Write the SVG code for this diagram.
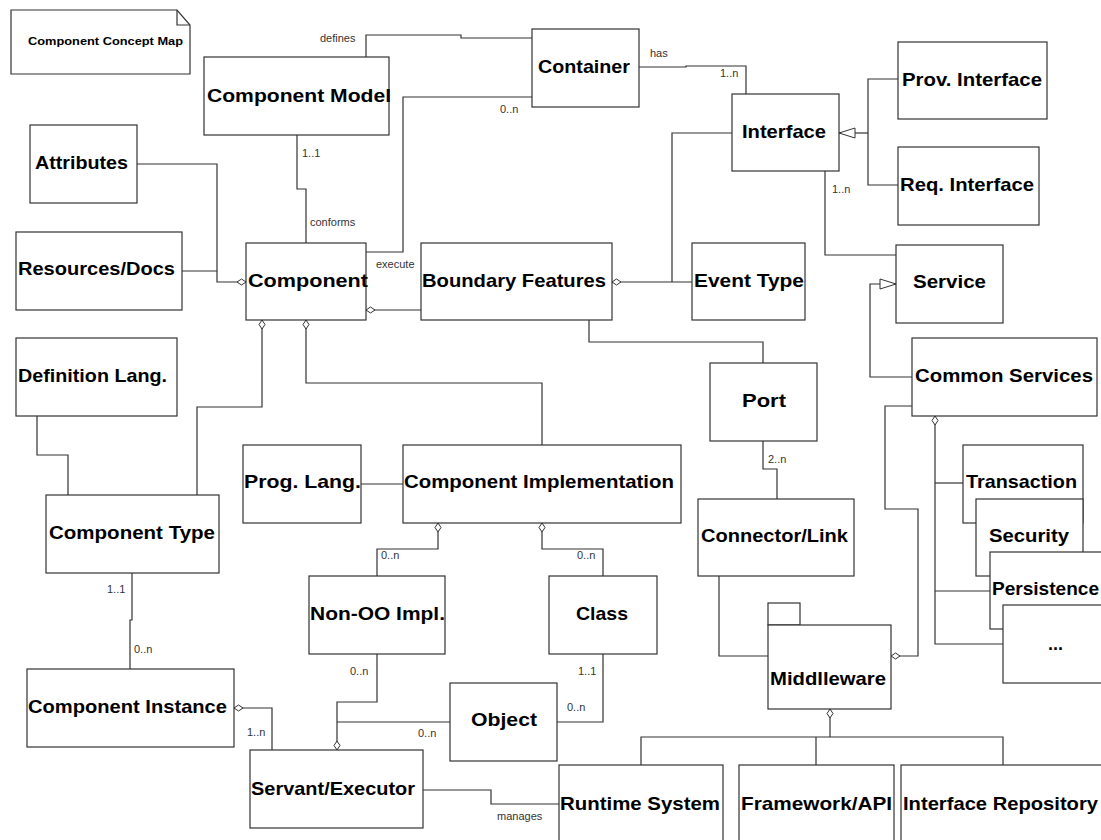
<svg xmlns="http://www.w3.org/2000/svg" width="1101" height="840" viewBox="0 0 1101 840">
<style>
.box{fill:#fff;stroke:#333;stroke-width:1.2}
.t{font-family:"Liberation Sans",Arial,sans-serif;font-weight:bold;font-size:19px;fill:#000}
.l{font-family:"Liberation Sans",Arial,sans-serif;font-size:11px;fill:#333}
.c{fill:none;stroke:#333;stroke-width:1.2}
.d{marker-start:url(#dia)}
.g{marker-start:url(#tri)}
</style>
<defs>
<marker id="dia" markerUnits="userSpaceOnUse" viewBox="-1 -5 12 10" refX="0" refY="0" markerWidth="12" markerHeight="10" orient="auto">
<path d="M0,0 L4.5,-3 L9,0 L4.5,3 Z" fill="#fff" stroke="#333" stroke-width="1"/>
</marker>
<marker id="tri" markerUnits="userSpaceOnUse" viewBox="-1 -7 19 14" refX="0" refY="0" markerWidth="19" markerHeight="14" orient="auto">
<path d="M0,0 L16,-5 L16,5 Z" fill="#fff" stroke="#333" stroke-width="1"/>
</marker>
</defs>
<rect width="1101" height="840" fill="#fff"/>

<g id="note">
<path d="M11,10 H177 L190,25 V74 H11 Z" class="box"/>
<path d="M177,10 V25 H190" class="c"/>
<text x="28" y="45" class="t" style="font-size:11.5px" textLength="155" lengthAdjust="spacingAndGlyphs">Component Concept Map</text>
</g>

<g id="connectors">
<path class="c" d="M366,57 V35 H461 V38 H532"/>
<path class="c" d="M532,97 H403 V252 H366"/>
<path class="c" d="M639,67 H686 V66 H746 V94"/>
<path class="c" d="M297,135 V189 H306 V243"/>
<path class="c d" d="M246,282 H217 V164 H137"/>
<path class="c" d="M217,271 H182"/>
<path class="c d" d="M366,310 H421"/>
<path class="c d" d="M612,282 H692"/>
<path class="c" d="M732,133 H672 V282"/>
<path class="c g" d="M839,133 H868"/>
<path class="c" d="M898,79 H868 V185 H898"/>
<path class="c" d="M825,171 V255 H896"/>
<path class="c g" d="M896,284 H870 V377 H912"/>
<path class="c" d="M589,320 V342 H763 V363"/>
<path class="c" d="M763,441 V469 H777 V499"/>
<path class="c d" d="M262,320 V407 H197 V495"/>
<path class="c d" d="M306,320 V383 H542 V445"/>
<path class="c" d="M37,416 V455 H68 V495"/>
<path class="c" d="M361,484 H403"/>
<path class="c" d="M132,573 V620 H130 V669"/>
<path class="c d" d="M438,523 V549 H377 V576"/>
<path class="c d" d="M542,523 V549 H603 V576"/>
<path class="c d" d="M337,750 V702 H377 V654"/>
<path class="c" d="M450,722 H337"/>
<path class="c" d="M603,654 V722 H557"/>
<path class="c d" d="M234,708 H272 V750"/>
<path class="c" d="M423,790 H491 V804 H559"/>
<path class="c d" d="M830,709 V737"/>
<path class="c" d="M641,765 V737 H1003 V765"/>
<path class="c" d="M816,737 V765"/>
<path class="c" d="M719,576 V656 H768"/>
<path class="c d" d="M891,656 H918 V509 H885 V406 H912"/>
<path class="c d" d="M935,416 V644 H1003"/>
<path class="c" d="M935,483 H963"/>
<path class="c" d="M935,591 H990"/>
<text class="l" x="320" y="42">defines</text>
<text class="l" x="500" y="113">0..n</text>
<text class="l" x="650" y="57">has</text>
<text class="l" x="720" y="77">1..n</text>
<text class="l" x="832" y="193">1..n</text>
<text class="l" x="302" y="157">1..1</text>
<text class="l" x="310" y="226">conforms</text>
<text class="l" x="376" y="268">execute</text>
<text class="l" x="768" y="463">2..n</text>
<text class="l" x="107" y="593">1..1</text>
<text class="l" x="134" y="653">0..n</text>
<text class="l" x="381" y="559">0..n</text>
<text class="l" x="577" y="559">0..n</text>
<text class="l" x="350" y="675">0..n</text>
<text class="l" x="418" y="737">0..n</text>
<text class="l" x="578" y="675">1..1</text>
<text class="l" x="567" y="711">0..n</text>
<text class="l" x="247" y="736">1..n</text>
<text class="l" x="497" y="820">manages</text>
</g>

<g id="component-model"><rect class="box" x="204" y="57" width="185" height="78"/><text class="t" x="207" y="102" textLength="184" lengthAdjust="spacingAndGlyphs">Component Model</text></g>
<g id="container"><rect class="box" x="532" y="29" width="107" height="78"/><text class="t" x="538" y="73" textLength="92" lengthAdjust="spacingAndGlyphs">Container</text></g>
<g id="interface"><rect class="box" x="732" y="94" width="107" height="77"/><text class="t" x="742" y="138" textLength="84" lengthAdjust="spacingAndGlyphs">Interface</text></g>
<g id="prov-interface"><rect class="box" x="898" y="42" width="149" height="77"/><text class="t" x="902" y="86" textLength="140" lengthAdjust="spacingAndGlyphs">Prov. Interface</text></g>
<g id="req-interface"><rect class="box" x="898" y="147" width="141" height="78"/><text class="t" x="900" y="191" textLength="134" lengthAdjust="spacingAndGlyphs">Req. Interface</text></g>
<g id="service"><rect class="box" x="896" y="245" width="107" height="78"/><text class="t" x="913" y="288" textLength="73" lengthAdjust="spacingAndGlyphs">Service</text></g>
<g id="event-type"><rect class="box" x="692" y="243" width="113" height="77"/><text class="t" x="694" y="287" textLength="110" lengthAdjust="spacingAndGlyphs">Event Type</text></g>
<g id="boundary-features"><rect class="box" x="421" y="243" width="191" height="77"/><text class="t" x="422" y="287" textLength="184" lengthAdjust="spacingAndGlyphs">Boundary Features</text></g>
<g id="component"><rect class="box" x="246" y="243" width="120" height="77"/><text class="t" x="248" y="287" textLength="120" lengthAdjust="spacingAndGlyphs">Component</text></g>
<g id="attributes"><rect class="box" x="30" y="125" width="107" height="78"/><text class="t" x="35" y="169" textLength="93" lengthAdjust="spacingAndGlyphs">Attributes</text></g>
<g id="resources-docs"><rect class="box" x="16" y="232" width="166" height="78"/><text class="t" x="18" y="275" textLength="157" lengthAdjust="spacingAndGlyphs">Resources/Docs</text></g>
<g id="definition-lang"><rect class="box" x="16" y="338" width="161" height="78"/><text class="t" x="18" y="382" textLength="149" lengthAdjust="spacingAndGlyphs">Definition Lang.</text></g>
<g id="prog-lang"><rect class="box" x="243" y="445" width="118" height="78"/><text class="t" x="244" y="488" textLength="117" lengthAdjust="spacingAndGlyphs">Prog. Lang.</text></g>
<g id="component-implementation"><rect class="box" x="403" y="445" width="278" height="78"/><text class="t" x="404" y="488" textLength="270" lengthAdjust="spacingAndGlyphs">Component Implementation</text></g>
<g id="component-type"><rect class="box" x="46" y="495" width="173" height="78"/><text class="t" x="49" y="539" textLength="166" lengthAdjust="spacingAndGlyphs">Component Type</text></g>
<g id="component-instance"><rect class="box" x="27" y="669" width="207" height="78"/><text class="t" x="28" y="713" textLength="199" lengthAdjust="spacingAndGlyphs">Component Instance</text></g>
<g id="non-oo-impl"><rect class="box" x="309" y="576" width="136" height="78"/><text class="t" x="310" y="620" textLength="135" lengthAdjust="spacingAndGlyphs">Non-OO Impl.</text></g>
<g id="class"><rect class="box" x="549" y="576" width="108" height="78"/><text class="t" x="576" y="620" textLength="52" lengthAdjust="spacingAndGlyphs">Class</text></g>
<g id="object"><rect class="box" x="450" y="683" width="107" height="78"/><text class="t" x="471" y="726" textLength="66" lengthAdjust="spacingAndGlyphs">Object</text></g>
<g id="servant-executor"><rect class="box" x="250" y="750" width="173" height="78"/><text class="t" x="251" y="795" textLength="164" lengthAdjust="spacingAndGlyphs">Servant/Executor</text></g>
<g id="runtime-system"><rect class="box" x="559" y="765" width="164" height="85"/><text class="t" x="560" y="810" textLength="160" lengthAdjust="spacingAndGlyphs">Runtime System</text></g>
<g id="framework-api"><rect class="box" x="739" y="765" width="155" height="85"/><text class="t" x="741" y="810" textLength="151" lengthAdjust="spacingAndGlyphs">Framework/API</text></g>
<g id="interface-repository"><rect class="box" x="901" y="765" width="210" height="85"/><text class="t" x="903" y="810" textLength="195" lengthAdjust="spacingAndGlyphs">Interface Repository</text></g>
<g id="middleware"><rect class="box" x="768" y="603" width="32" height="22"/><rect class="box" x="768" y="625" width="123" height="84"/><text class="t" x="770" y="685" textLength="116" lengthAdjust="spacingAndGlyphs">Middlleware</text></g>
<g id="connector-link"><rect class="box" x="698" y="499" width="156" height="77"/><text class="t" x="701" y="542" textLength="147" lengthAdjust="spacingAndGlyphs">Connector/Link</text></g>
<g id="common-services"><rect class="box" x="912" y="338" width="185" height="78"/><text class="t" x="915" y="382" textLength="178" lengthAdjust="spacingAndGlyphs">Common Services</text></g>
<g id="port"><rect class="box" x="710" y="363" width="107" height="78"/><text class="t" x="742" y="407" textLength="44" lengthAdjust="spacingAndGlyphs">Port</text></g>
<g id="transaction"><rect class="box" x="963" y="445" width="120" height="78"/><text class="t" x="966" y="488" textLength="111" lengthAdjust="spacingAndGlyphs">Transaction</text></g>
<g id="security"><rect class="box" x="976" y="499" width="107" height="77"/><text class="t" x="989" y="542" textLength="80" lengthAdjust="spacingAndGlyphs">Security</text></g>
<g id="persistence"><rect class="box" x="990" y="552" width="120" height="77"/><text class="t" x="992" y="595" textLength="107" lengthAdjust="spacingAndGlyphs">Persistence</text></g>
<g id="more"><rect class="box" x="1003" y="605" width="110" height="78"/><text class="t" x="1048" y="650" textLength="15" lengthAdjust="spacingAndGlyphs">...</text></g>
</svg>
